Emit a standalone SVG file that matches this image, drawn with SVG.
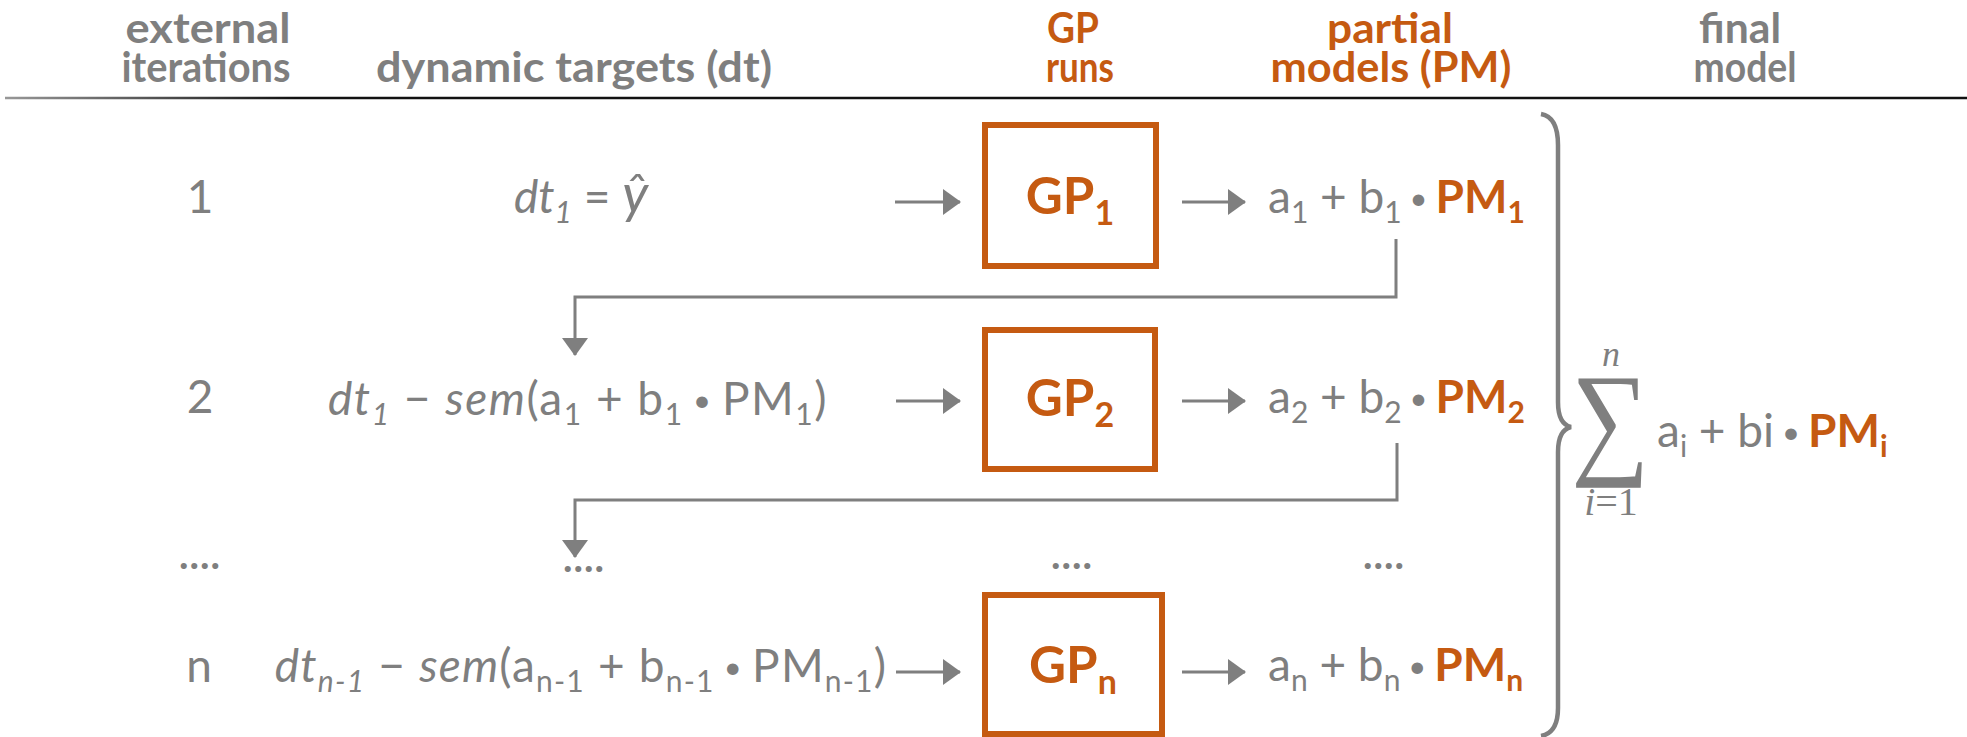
<svg xmlns="http://www.w3.org/2000/svg" width="1967" height="737" viewBox="0 0 1967 737">
<defs>
<linearGradient id="hl" x1="0" y1="0" x2="1967" y2="0" gradientUnits="userSpaceOnUse">
<stop offset="0" stop-color="#9a9a9a"/><stop offset="0.15" stop-color="#111"/><stop offset="1" stop-color="#111"/>
</linearGradient>
<marker id="ah" markerWidth="18" markerHeight="26" refX="17" refY="13" orient="auto" markerUnits="userSpaceOnUse">
<path d="M0,0 L18,13 L0,26 Z" fill="#7f7f7f"/>
</marker>
<style>
.h{font-family:Lato,"Open Sans",sans-serif;font-weight:700;font-size:42px;fill:#7f7f7f;text-anchor:middle}
.ho{fill:#c55a11}
.t{font-family:Lato,"Open Sans",sans-serif;font-size:46px;fill:#7f7f7f}
.f{font-family:Lato,"Open Sans",sans-serif;font-size:46px;fill:#7f7f7f;text-anchor:middle}
.m{text-anchor:middle}
.i{font-style:italic}
.o{fill:#c55a11;font-weight:700}
.s{font-size:30px}
.s2{font-size:30px}
.b{font-size:31px}
.box{fill:none;stroke:#c55a11;stroke-width:6}
.gp{font-family:Lato,"Open Sans",sans-serif;font-weight:700;font-size:51px;fill:#c55a11;text-anchor:middle}
.gps{font-size:34px}
.c{fill:none;stroke:#7f7f7f;stroke-width:3}
.dots{font-family:Lato,sans-serif;font-weight:700;font-size:40px;fill:#7f7f7f;text-anchor:middle;letter-spacing:1px}
.mth{font-family:"Liberation Serif",serif;fill:#7f7f7f}
</style>
</defs>

<g id="header">
<text class="h" x="208" y="43" textLength="165" lengthAdjust="spacingAndGlyphs">external</text>
<text class="h" x="206" y="82" textLength="169" lengthAdjust="spacingAndGlyphs">iterations</text>
<text class="h" x="574" y="82" textLength="396" lengthAdjust="spacingAndGlyphs">dynamic targets (dt)</text>
<text class="h ho" x="1073" y="43" textLength="52" lengthAdjust="spacingAndGlyphs">GP</text>
<text class="h ho" x="1080" y="82" textLength="68" lengthAdjust="spacingAndGlyphs">runs</text>
<text class="h ho" x="1390" y="43" textLength="126" lengthAdjust="spacingAndGlyphs">partial</text>
<text class="h ho" x="1391" y="82" textLength="241" lengthAdjust="spacingAndGlyphs">models (PM)</text>
<text class="h" x="1740" y="43" textLength="82" lengthAdjust="spacingAndGlyphs">final</text>
<text class="h" x="1745" y="82" textLength="103" lengthAdjust="spacingAndGlyphs">model</text>
<line x1="5" y1="98" x2="1967" y2="98" stroke="url(#hl)" stroke-width="2.5"/>
</g>

<g id="iterations">
<text class="t m" x="200" y="213">1</text>
<text class="t m" x="200" y="413">2</text>
<text class="dots" x="200" y="569">....</text>
<text class="t m" x="199" y="682">n</text>
</g>

<g id="targets">
<text class="f" x="581" y="213"><tspan class="i">dt</tspan><tspan class="i s2" dy="10">1</tspan><tspan dy="-10"> = </tspan><tspan class="i" font-size="54">ŷ</tspan></text>
<text class="f" x="578" y="415" letter-spacing="1.5"><tspan class="i">dt</tspan><tspan class="i s2" dy="10">1</tspan><tspan dy="-10"> − </tspan><tspan class="i">sem</tspan><tspan>(a</tspan><tspan class="s2" dy="10">1</tspan><tspan dy="-10"> + b</tspan><tspan class="s2" dy="10">1</tspan><tspan class="b" dy="-14"> • </tspan><tspan dy="4">PM</tspan><tspan class="s2" dy="10">1</tspan><tspan dy="-10">)</tspan></text>
<text class="dots" x="584" y="572">....</text>
<text class="f" x="581" y="682" letter-spacing="1.2"><tspan class="i">dt</tspan><tspan class="i s2" dy="10">n-1</tspan><tspan dy="-10"> − </tspan><tspan class="i">sem</tspan><tspan>(a</tspan><tspan class="s2" dy="10">n-1</tspan><tspan dy="-10"> + b</tspan><tspan class="s2" dy="10">n-1</tspan><tspan class="b" dy="-14"> • </tspan><tspan dy="4">PM</tspan><tspan class="s2" dy="10">n-1</tspan><tspan dy="-10">)</tspan></text>
</g>

<g id="gp1">
<rect class="box" x="985" y="125" width="171" height="141"/>
<text class="gp" x="1070" y="214">GP<tspan class="gps" dy="11">1</tspan></text>
</g>
<g id="gp2">
<rect class="box" x="985" y="330" width="170" height="139"/>
<text class="gp" x="1070" y="416">GP<tspan class="gps" dy="11">2</tspan></text>
</g>
<g id="gpdots">
<text class="dots" x="1072" y="569">....</text>
</g>
<g id="gpn">
<rect class="box" x="985" y="595" width="177" height="139"/>
<text class="gp" x="1073" y="683">GP<tspan class="gps" dy="11">n</tspan></text>
</g>

<g id="pm1">
<text class="t" x="1268" y="213">a<tspan class="s" dy="10">1</tspan><tspan dy="-10"> + b</tspan><tspan class="s" dy="10">1</tspan><tspan class="b" dy="-14"> • </tspan><tspan class="o" dy="4">PM</tspan><tspan class="o s" dy="10">1</tspan></text>
</g>
<g id="pm2">
<text class="t" x="1268" y="413">a<tspan class="s" dy="10">2</tspan><tspan dy="-10"> + b</tspan><tspan class="s" dy="10">2</tspan><tspan class="b" dy="-14"> • </tspan><tspan class="o" dy="4">PM</tspan><tspan class="o s" dy="10">2</tspan></text>
</g>
<g id="pmdots">
<text class="dots" x="1384" y="569">....</text>
</g>
<g id="pmn">
<text class="t" x="1268" y="681">a<tspan class="s" dy="10">n</tspan><tspan dy="-10"> + b</tspan><tspan class="s" dy="10">n</tspan><tspan class="b" dy="-14"> • </tspan><tspan class="o" dy="4">PM</tspan><tspan class="o s" dy="10">n</tspan></text>
</g>

<g id="final-model">
<path d="M1541,114 Q1558,117 1558,145 L1558,402 Q1558,424 1571,427 Q1558,430 1558,452 L1558,708 Q1558,733 1541,736" fill="none" stroke="#7f7f7f" stroke-width="4.5"/>
<text class="mth" transform="translate(1610,461) scale(0.87,1)" x="0" y="0" font-size="126" text-anchor="middle">∑</text>
<text class="mth" x="1611" y="366" font-size="36" font-style="italic" text-anchor="middle">n</text>
<text class="mth" x="1611" y="515" font-size="40" text-anchor="middle"><tspan font-style="italic">i</tspan>=1</text>
<text class="t" x="1657" y="447">a<tspan class="s" dy="10">i</tspan><tspan dy="-10"> + bi</tspan><tspan class="b" dy="-4"> • </tspan><tspan class="o" dy="4">PM</tspan><tspan class="o s" dy="10">i</tspan></text>
</g>

<g id="connectors">
<line class="c" x1="895" y1="202" x2="960" y2="202" marker-end="url(#ah)"/>
<line class="c" x1="1182" y1="202" x2="1245" y2="202" marker-end="url(#ah)"/>
<line class="c" x1="896" y1="401" x2="960" y2="401" marker-end="url(#ah)"/>
<line class="c" x1="1182" y1="401" x2="1245" y2="401" marker-end="url(#ah)"/>
<line class="c" x1="896" y1="672" x2="960" y2="672" marker-end="url(#ah)"/>
<line class="c" x1="1182" y1="672" x2="1245" y2="672" marker-end="url(#ah)"/>
<path class="c" d="M1396,239 V297 H575 V355" marker-end="url(#ah)"/>
<path class="c" d="M1397,443 V500 H575 V557" marker-end="url(#ah)"/>
</g>
</svg>
